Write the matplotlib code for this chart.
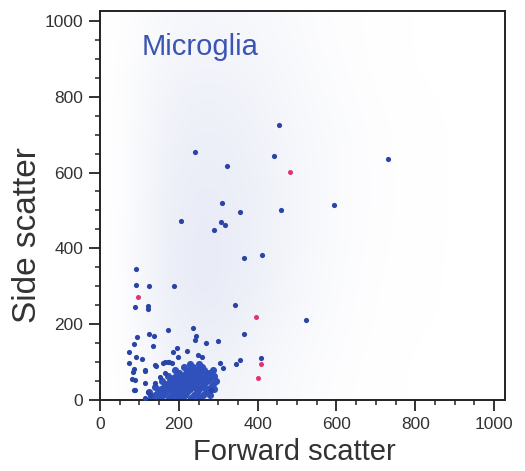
import numpy as np
import matplotlib
matplotlib.use("Agg")
import matplotlib.pyplot as plt
from matplotlib.colors import LinearSegmentedColormap
from matplotlib.ticker import MultipleLocator

# ---- data ----
# sparse blue events (forward scatter, side scatter)
blue_x = [454, 241, 442, 322, 731, 310, 355, 459, 594, 206, 307, 317, 289, 366, 411,
          91, 91, 124, 188, 89, 122, 122, 343, 523, 236, 173, 124, 137, 366, 94,
          244, 241, 86, 134, 269, 300, 195, 185, 221, 74, 198, 249, 259, 409, 91,
          107, 355, 345, 74, 175, 165, 86, 114, 142, 305, 313, 81, 89, 86, 282,
          114, 140, 160, 173, 183, 114, 84, 114, 89, 122, 140, 152, 165, 127]
blue_y = [726, 654, 644, 617, 636, 520, 496, 501, 515, 472, 470, 462, 449, 375, 383,
          345, 304, 301, 301, 245, 248, 240, 251, 211, 190, 185, 174, 169, 174, 166,
          169, 158, 148, 142, 150, 156, 137, 127, 129, 127, 113, 119, 113, 111, 113,
          108, 106, 95, 98, 100, 100, 82, 77, 90, 98, 84, 55, 53, 26, 26,
          5, 92, 97, 100, 97, 79, 74, 45, 26, 21, 45, 61, 71, 13]

# dense core of the microglia population
core_x = [130, 152, 175, 190, 208, 230, 250,
          140, 160, 182, 197, 215, 238, 262, 280,
          125, 148, 168, 186, 203, 222, 245, 268,
          155, 175, 193, 210, 228, 252, 275, 290,
          140, 162, 183, 200, 218, 236, 258, 282,
          170, 190, 207, 225, 243, 265, 288,
          158, 178, 197, 214, 232, 250, 272, 295,
          185, 203, 220, 240, 258, 280,
          172, 193, 212, 230, 248, 268, 290,
          200, 218, 237, 255, 276,
          190, 226, 245, 265, 287,
          212, 235, 258,
          228, 250]
core_y = [5, 5, 5, 5, 5, 5, 5,
          12, 12, 12, 12, 12, 12, 12, 12,
          20, 20, 20, 20, 20, 20, 20, 20,
          28, 28, 28, 28, 28, 28, 28, 28,
          35, 35, 35, 35, 35, 35, 35, 35,
          42, 42, 42, 42, 42, 42, 42,
          50, 50, 50, 50, 50, 50, 50, 50,
          57, 57, 57, 57, 57, 57,
          64, 64, 64, 64, 64, 64, 64,
          72, 72, 72, 72, 72,
          80, 80, 80, 80, 80,
          88, 88, 88,
          96, 96]

# red (gated-out) events
red_x = [482, 96, 396, 409, 401]
red_y = [602, 272, 219, 95, 58]

# faint background event density (rows: side scatter 0-100 ... 900-1000,
# columns: forward scatter 0-100 ... 900-1000)
bg_density = [
    [0, .40, .60, .45, .25, .10, .03, 0, 0, 0],
    [0, .55, .80, .60, .35, .15, .05, 0, 0, 0],
    [0, .65, .95, .75, .45, .20, .06, .02, 0, 0],
    [0, .70, 1.0, .80, .50, .22, .08, .02, 0, 0],
    [0, .70, .95, .80, .50, .25, .10, .03, 0, 0],
    [0, .65, .90, .75, .50, .25, .10, .03, 0, 0],
    [0, .60, .80, .70, .45, .25, .10, .03, 0, 0],
    [0, .55, .70, .60, .40, .20, .08, .02, 0, 0],
    [0, .45, .55, .50, .35, .15, .05, 0, 0, 0],
    [0, .30, .40, .35, .25, .10, .05, 0, 0, 0],
]

label_text = "Microglia"
x_label = "Forward scatter"
y_label = "Side scatter"
ticks = [0, 200, 400, 600, 800, 1000]

# ---- figure ----
plt.rcParams['font.family'] = ['Liberation Sans', 'DejaVu Sans']
fig = plt.figure(figsize=(5.25, 4.71), dpi=100)
ax = fig.add_axes([0.1905, 0.1507, 0.7715, 0.8259])

cmap = LinearSegmentedColormap.from_list("bg", ["#ffffff", "#e7eaf6"])
ax.imshow(np.array(bg_density), extent=[0, 1028, 0, 1026], origin="lower",
          cmap=cmap, vmin=0, vmax=1, interpolation="bicubic", aspect="auto",
          zorder=0)

ax.scatter(core_x, core_y, s=26, color="#3050bc", marker="o", linewidths=0, zorder=2)
ax.scatter(blue_x, blue_y, s=14, color="#2a44a6", marker="o", linewidths=0, zorder=3)
ax.scatter(red_x, red_y, s=13, color="#e3336c", marker="o", linewidths=0, zorder=3)

ax.set_xlim(0, 1028)
ax.set_ylim(0, 1026)
ax.set_xticks(ticks)
ax.set_yticks(ticks)
ax.xaxis.set_minor_locator(MultipleLocator(50))
ax.yaxis.set_minor_locator(MultipleLocator(50))
ax.tick_params(which="major", direction="out", length=8, width=1.3,
               labelsize=12.5, labelcolor="#333333", color="#222222", pad=4)
ax.tick_params(which="minor", direction="out", length=3.5, width=1.1, color="#222222")
for side in ["left", "bottom", "top", "right"]:
    ax.spines[side].set_linewidth(1.4)
    ax.spines[side].set_color("#222222")

ax.set_xlabel(x_label, fontsize=21, color="#333333")
ax.set_ylabel(y_label, fontsize=24, color="#333333")
ax.xaxis.set_label_coords(0.479, -0.098)
ax.yaxis.set_label_coords(-0.178, 0.424)
ax.yaxis.label.set_verticalalignment("center")
ax.text(0.102, 0.907, label_text, transform=ax.transAxes, fontsize=21,
        color="#3b55b2", ha="left", va="center")

fig.savefig("out.png", dpi=100)
